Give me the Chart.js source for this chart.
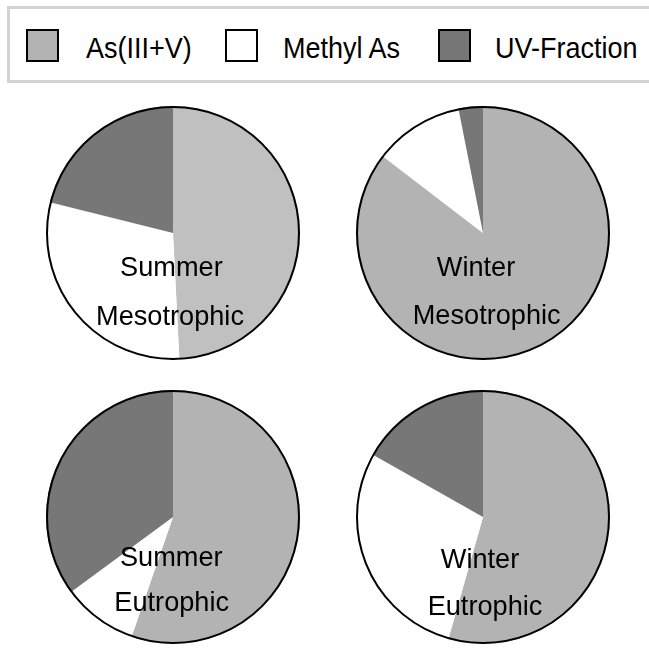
<!DOCTYPE html>
<html>
<head>
<meta charset="utf-8">
<script src="https://cdn.jsdelivr.net/npm/chart.js@4/dist/chart.umd.min.js"></script>
<style>
  html, body { margin: 0; padding: 0; background: #fff; }
  body { width: 649px; height: 649px; position: relative; overflow: hidden;
         font-family: "Liberation Sans", Arial, sans-serif; }
  #legend { position: absolute; left: 7px; top: 6px; width: 680px; height: 71px;
            border: 3px solid #d3d3d3; box-sizing: content-box; }
  .sw { position: absolute; width: 29px; height: 29px; border: 2px solid #000; top: 20px; }
  .lt { position: absolute; top: 24px; font-size: 30px; line-height: 30px; color: #000;
        white-space: nowrap; transform: scaleX(0.9); transform-origin: 0 0; }
  .pie { position: absolute; }
</style>
</head>
<body>
<div id="legend"></div>
<canvas id="c0" class="pie" width="270" height="270" style="left:38px;top:98px"></canvas>
<canvas id="c1" class="pie" width="270" height="270" style="left:348px;top:98px"></canvas>
<canvas id="c2" class="pie" width="270" height="270" style="left:38px;top:382px"></canvas>
<canvas id="c3" class="pie" width="270" height="270" style="left:348px;top:382px"></canvas>
<script>
// ---- data ----
const categories = ["As(III+V)", "Methyl As", "UV-Fraction"];
const summerMesotrophic = [49.2, 29.7, 21.1];
const winterMesotrophic = [85.4, 11.5, 3.1];
const summerEutrophic = [55.3, 9.6, 35.1];
const winterEutrophic = [54.4, 28.8, 16.8];
const panelTitles = [
  ["Summer", "Mesotrophic"],
  ["Winter", "Mesotrophic"],
  ["Summer", "Eutrophic"],
  ["Winter", "Eutrophic"]
];

// ---- styles ----
const colors = ["#b3b3b3", "#ffffff", "#777777"];
const panelColors = [
  ["#c0c0c0", "#ffffff", "#777777"],
  colors, colors, colors
];
const labelOffsets = [
  [[-1.6, 43], [-3, 91.5]],
  [[-7, 42.5], [3.7, 90.5]],
  [[-1.7, 49], [-1.3, 94]],
  [[-3, 51], [2, 98]]
];

// ---- legend (built from categories/colors) ----
const legend = document.getElementById('legend');
const swLeft = [16, 215, 428];
const txLeft = [76, 273, 485];
categories.forEach((c, i) => {
  const s = document.createElement('div');
  s.className = 'sw'; s.style.left = swLeft[i] + 'px'; s.style.background = colors[i];
  legend.appendChild(s);
  const t = document.createElement('div');
  t.className = 'lt'; t.style.left = txLeft[i] + 'px'; t.textContent = c;
  legend.appendChild(t);
});

// ---- plugin: outer ring + inner labels ----
const ringAndLabels = {
  id: 'ringAndLabels',
  afterDatasetsDraw(chart, args, opts) {
    const arc = chart.getDatasetMeta(0).data[0];
    if (!arc) return;
    const ctx = chart.ctx;
    ctx.save();
    ctx.beginPath();
    ctx.arc(arc.x, arc.y, arc.outerRadius - 1, 0, Math.PI * 2);
    ctx.lineWidth = 2;
    ctx.strokeStyle = '#000';
    ctx.stroke();
    ctx.fillStyle = '#000';
    ctx.font = '28px "Liberation Sans", Arial, sans-serif';
    ctx.textAlign = 'center';
    ctx.textBaseline = 'alphabetic';
    opts.lines.forEach((line, k) => {
      const [dx, dy] = opts.offsets[k];
      ctx.save();
      ctx.translate(arc.x + dx, arc.y + dy);
      ctx.scale(0.97, 1);
      ctx.fillText(line, 0, 0);
      ctx.restore();
    });
    ctx.restore();
  }
};

const series = [summerMesotrophic, winterMesotrophic, summerEutrophic, winterEutrophic];
series.forEach((vals, i) => {
  new Chart(document.getElementById('c' + i), {
    type: 'pie',
    data: {
      labels: categories,
      datasets: [{
        data: vals,
        backgroundColor: panelColors[i],
        borderWidth: 0
      }]
    },
    options: {
      responsive: false,
      animation: false,
      layout: { padding: 8 },
      plugins: {
        legend: { display: false },
        tooltip: { enabled: false },
        ringAndLabels: { lines: panelTitles[i], offsets: labelOffsets[i] }
      }
    },
    plugins: [ringAndLabels]
  });
});
</script>
</body>
</html>
